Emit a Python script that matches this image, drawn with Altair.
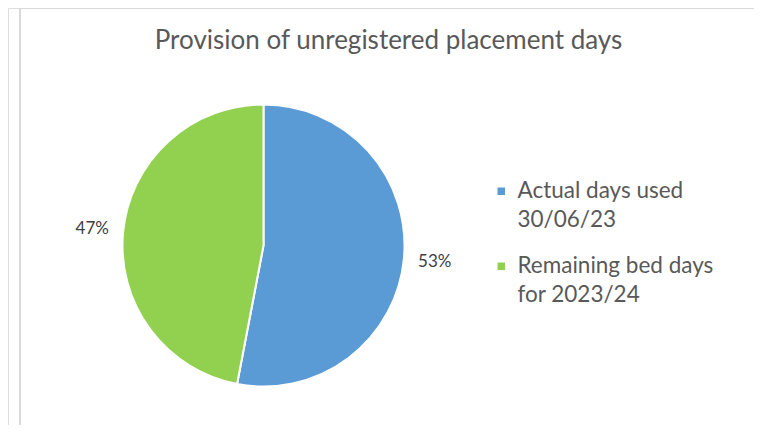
import altair as alt
import pandas as pd

title_text = "Provision of unregistered placement days"
categories = ["Actual days used 30/06/23", "Remaining bed days for 2023/24"]
legend_lines = [["Actual days used", "30/06/23"], ["Remaining bed days", "for 2023/24"]]
values = [53, 47]
pct_labels = ["53%", "47%"]
colors = ["#5B9BD5", "#92D050"]

df = pd.DataFrame({"category": categories, "value": values,
                   "label": pct_labels, "order": list(range(len(categories)))})

def arr(lines):
    return "[" + ",".join("'" + s + "'" for s in lines) + "]"

label_expr = arr(legend_lines[-1])
for cat, lines in reversed(list(zip(categories[:-1], legend_lines[:-1]))):
    label_expr = f"datum.label == '{cat}' ? {arr(lines)} : {label_expr}"

W, H = 746, 417
CX, CY, R = 255.5, 237.5, 141
FONT = "Lato"
frame_color = "#D9D9D9"

base = alt.Chart(df).encode(
    theta=alt.Theta("value:Q", stack=True),
    order=alt.Order("order:Q"),
)

pie = base.mark_arc(outerRadius=R, stroke="white", strokeWidth=2, x=CX, y=CY).encode(
    color=alt.Color(
        "category:N",
        scale=alt.Scale(domain=categories, range=colors),
        legend=alt.Legend(
            title=None, orient="none", legendX=482, legendY=172,
            symbolType="square", symbolSize=56, symbolStrokeWidth=0,
            labelFont=FONT, labelFontSize=22.5, labelColor="#595959",
            labelLimit=400, labelExpr=label_expr, labelOffset=5,
            rowPadding=23, padding=0,
        ),
    )
)

text = base.mark_text(radius=172, x=CX, y=CY, font=FONT, fontSize=17,
                      color="#404040").encode(text="label:N")

dummy = alt.Chart(pd.DataFrame({"a": [0]}))
left = dummy.mark_rule(color=frame_color, strokeWidth=2).encode(
    x=alt.value(12), y=alt.value(0), y2=alt.value(H))
right = dummy.mark_rule(color=frame_color, strokeWidth=2).encode(
    x=alt.value(749), y=alt.value(0), y2=alt.value(H))
top = dummy.mark_rule(color=frame_color, strokeWidth=2).encode(
    x=alt.value(12), x2=alt.value(749), y=alt.value(0))

chart = alt.layer(left, right, top, pie, text).properties(
    width=W, height=H,
    autosize=alt.AutoSizeParams(type="none"),
    padding=0,
    title=alt.TitleParams(title_text, anchor="middle", font=FONT, fontSize=26,
                          fontWeight="normal", color="#595959", offset=-47, dx=7.5),
).configure_view(stroke=None).configure(
    style={"guide-label": {"lineHeight": 29}}
)

chart.save("out.html", embed_options={"renderer": "svg", "actions": False})
